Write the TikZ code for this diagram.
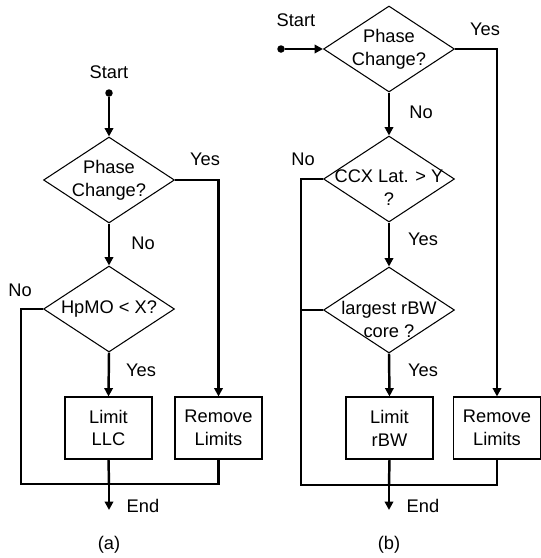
\documentclass[tikz,border=0pt]{standalone}
\usepackage{fontspec}
\setmainfont{Liberation Sans}
\usetikzlibrary{arrows.meta, shapes.geometric}
\tikzset{>={Triangle[length=4.8pt,width=4.8pt]}}
\tikzset{
  decision/.style={diamond, draw, line width=.6pt, minimum width=2.62cm, minimum height=1.72cm, inner sep=0pt},
  block/.style={rectangle, draw, line width=.6pt, minimum width=1.74cm, minimum height=1.24cm, align=center},
  flow/.style={line width=1.4pt},
  startdot/.style={circle, fill, minimum size=.15cm, inner sep=0pt}
}

\begin{document}
\begin{tikzpicture}[x=.02cm, y=-.02cm, every node/.append style={font=\fontsize{10.4}{13}\selectfont}]
        \useasboundingbox (0,0) rectangle (541,558);

        % (a)
        \node (startA) at (109,72) {Start};
        \node[startdot] (dotA) at (109,93) {};
        \node[decision, label={[align=center]center:{Phase\\Change?}}] (phaseA) at (109,180) {};
        \node[decision, label={center:HpMO < X?}] (hpmo) at (109,309) {};
        \node[block] (limA) at (108.5,428) {Limit\\LLC};
        \node[block] (remA) at (218.5,428) {Remove\\Limits};
        \coordinate (cornerA) at (21,484);
        \coordinate (joinA) at (109,484);
        \coordinate (endA) at (109,510);

        \draw[flow,->] (dotA) -- (phaseA.north);
        \draw[flow,->] (phaseA.south) -- (hpmo.north);
        \draw[flow,->] (phaseA.east) -| (remA.north);
        \draw[flow,->] (hpmo.south) -- (limA.north);
        \draw[flow] (hpmo.west) -| (cornerA) -| (remA.south);
        \draw[flow] (limA.south) -- (joinA);
        \draw[flow,->] (joinA) -- (endA);

        \node at (205,159) {Yes};
        \node at (143,243) {No};
        \node at (20,290) {No};
        \node at (141,370) {Yes};
        \node at (143,506) {End};
        \node at (109,545) {(a)};

        % (b)
        \node (startB) at (296,20) {Start};
        \node[startdot] (dotB) at (281,49) {};
        \node[decision, label={[align=center]center:{Phase\\Change?}}] (phaseB) at (389,49) {};
        \node[decision, label={[align=center,yshift=-.17cm]center:{CCX Lat. > Y\\?}}] (ccx) at (389,179) {};
        \node[decision, label={[align=center,yshift=-.19cm]center:{largest rBW\\core ?}}] (largest) at (389,310) {};
        \node[block] (limB) at (389.5,428) {Limit\\rBW};
        \node[block] (remB) at (497,428) {Remove\\Limits};
        \coordinate (cornerB) at (301,485);
        \coordinate (joinB) at (389,485);
        \coordinate (endB) at (389,510);

        \draw[flow,->] (dotB) -- (phaseB.west);
        \draw[flow,->] (phaseB.south) -- (ccx.north);
        \draw[flow,->] (phaseB.east) -| (remB.north);
        \draw[flow,->] (ccx.south) -- (largest.north);
        \draw[flow,->] (largest.south) -- (limB.north);
        \draw[flow] (ccx.west) -| (cornerB) -| (remB.south);
        \draw[flow] (largest.west) -- (largest.west -| cornerB);
        \draw[flow] (limB.south) -- (joinB);
        \draw[flow,->] (joinB) -- (endB);

        \node at (485,29) {Yes};
        \node at (421,112) {No};
        \node at (303,159) {No};
        \node at (423,239) {Yes};
        \node at (423,370) {Yes};
        \node at (423,506) {End};
        \node at (389,545) {(b)};
\end{tikzpicture}
\end{document}
